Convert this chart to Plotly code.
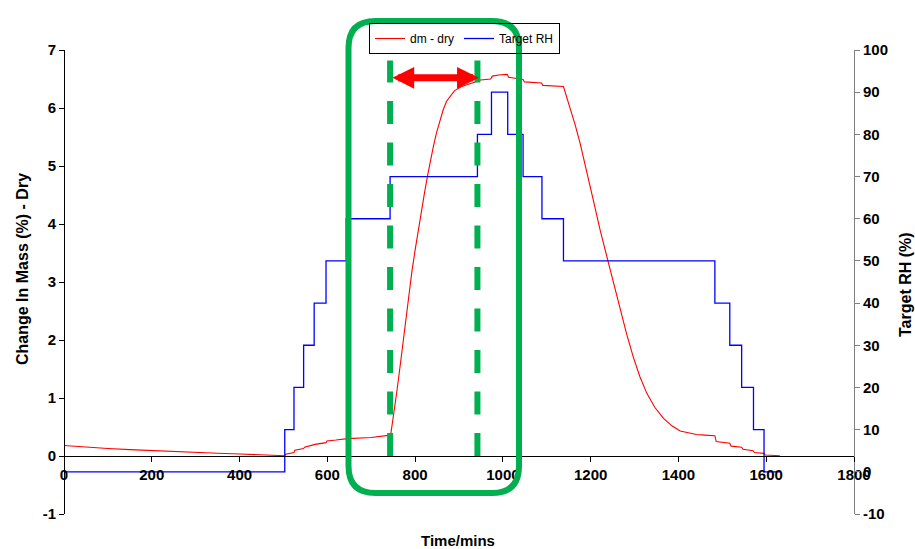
import plotly.graph_objects as go

# Mass change (dm - dry, %) against time (mins)
dm_time = [0, 25, 50, 100, 150, 200, 250, 300, 350, 400, 450, 500, 503,
           505, 524, 526, 546, 548, 570, 572, 597, 599, 620, 643, 646, 700, 743,
           745, 752, 758, 765, 772, 779, 786, 793, 800, 807, 814, 821, 828, 835,
           842, 849, 856, 864, 872, 881, 890, 906, 925, 942,
           944, 972, 976, 990, 1010, 1013, 1046, 1049, 1088, 1091, 1138,
           1145, 1153, 1165, 1176, 1190, 1206, 1222, 1239, 1253, 1267, 1282,
           1297, 1312, 1328, 1346, 1366, 1385, 1404, 1425, 1441, 1460, 1483,
           1486, 1517, 1520, 1544, 1547, 1570, 1573, 1595, 1598, 1631]
dm_value = [0.18, 0.165, 0.152, 0.13, 0.11, 0.092, 0.076, 0.062, 0.048, 0.035, 0.02, 0.008, 0.005,
            0.03, 0.06, 0.1, 0.13, 0.15, 0.19, 0.2, 0.23, 0.26, 0.275, 0.29, 0.3, 0.32, 0.36,
            0.40, 0.75, 1.09, 1.5, 1.95, 2.38, 2.8, 3.2, 3.55, 3.9, 4.2, 4.52, 4.82, 5.1,
            5.35, 5.58, 5.78, 5.97, 6.12, 6.22, 6.3, 6.37, 6.42, 6.46,
            6.48, 6.5, 6.55, 6.57, 6.58, 6.53, 6.49, 6.45, 6.43, 6.39, 6.37,
            6.2, 5.97, 5.7, 5.39, 4.95, 4.41, 3.88, 3.37, 2.93, 2.52, 2.1,
            1.71, 1.37, 1.08, 0.84, 0.65, 0.52, 0.43, 0.39, 0.37, 0.36, 0.35,
            0.25, 0.22, 0.17, 0.15, 0.115, 0.09, 0.06, 0.045, 0.017, 0.005]

# Target RH programme (%), value held from each time until the next
rh_time = [0, 503, 524, 546, 570, 597, 643, 743, 942, 974, 1011, 1046, 1089,
           1138, 1483, 1517, 1544, 1571, 1595, 1631]
rh_value = [0, 10, 20, 30, 40, 50, 60, 70, 80, 90, 80, 70, 60,
            50, 40, 30, 20, 10, 0, 0]

# Axis ticks (labels use a plain hyphen for negatives)
x_ticks = [0, 200, 400, 600, 800, 1000, 1200, 1400, 1600, 1800]
y_ticks = [-1, 0, 1, 2, 3, 4, 5, 6, 7]
y_labels = ["-1", "0", "1", "2", "3", "4", "5", "6", "7"]
rh_ticks = [-10, 0, 10, 20, 30, 40, 50, 60, 70, 80, 90, 100]
rh_labels = ["-10", "0", "10", "20", "30", "40", "50", "60", "70", "80", "90", "100"]

# Time window highlighted between the 70 % and 80 % RH steps
window_start = rh_time[7]
window_end = rh_time[8]

W, H = 915, 549
ML, MR, MT, MB = 64, 61, 50, 35
PW, PH = W - ML - MR, H - MT - MB


def px_x(p):
    return (p - ML) / PW


def px_y(p):
    return (H - MB - p) / PH


FONT = "Liberation Sans, Arial, sans-serif"
GREEN = "#00B050"

fig = go.Figure()
fig.add_trace(go.Scatter(x=dm_time, y=dm_value, name="dm - dry", mode="lines",
                         line=dict(color="#FF0000", width=1.1), yaxis="y"))
fig.add_trace(go.Scatter(x=rh_time, y=rh_value, name="Target RH", mode="lines",
                         line=dict(color="#0000FF", width=1.3, shape="hv"), yaxis="y2"))

# Rounded highlight box
L, R, T, B = px_x(348.5), px_x(519), px_y(21), px_y(493)
rx, ry = 27 / PW, 27 / PH
path = (f"M{L + rx},{T} H{R - rx} Q{R},{T} {R},{T - ry} V{B + ry} "
        f"Q{R},{B} {R - rx},{B} H{L + rx} Q{L},{B} {L},{B + ry} V{T - ry} "
        f"Q{L},{T} {L + rx},{T} Z")
shapes = [dict(type="path", path=path, xref="paper", yref="paper",
               line=dict(color=GREEN, width=6), fillcolor="rgba(0,0,0,0)", layer="above")]
for xv in (window_start, window_end):
    shapes.append(dict(type="line", xref="x", yref="y", x0=xv, x1=xv, y0=0, y1=6.82,
                       line=dict(color=GREEN, width=6, dash="23px,18.5px"), layer="above"))

title_font = dict(family=FONT, size=15, color="black", weight="bold")
annotations = [
    # double-headed arrow spanning the window
    dict(x=window_end + 3, y=6.52, ax=window_start + 2, ay=6.52, xref="x", yref="y",
         axref="x", ayref="y", text="", showarrow=True, arrowside="end+start",
         arrowhead=2, startarrowhead=2, arrowsize=0.62, startarrowsize=0.62,
         arrowwidth=7, arrowcolor="#FF0000", standoff=0, startstandoff=0),
    dict(text="Time/mins", x=px_x(458), y=px_y(540), xref="paper", yref="paper",
         xanchor="center", yanchor="middle", showarrow=False, font=title_font),
    dict(text="Change In Mass (%) - Dry", x=px_x(22), y=px_y(269), xref="paper", yref="paper",
         xanchor="center", yanchor="middle", showarrow=False, textangle=-90,
         font=dict(family=FONT, size=16, color="black", weight="bold")),
    dict(text="Target RH (%)", x=px_x(905), y=px_y(284), xref="paper", yref="paper",
         xanchor="center", yanchor="middle", showarrow=False, textangle=-90,
         font=dict(family=FONT, size=16, color="black", weight="bold")),
]

tickfont = dict(family=FONT, size=15, color="black", weight="bold")

fig.update_layout(
    width=W, height=H,
    margin=dict(l=ML, r=MR, t=MT, b=MB, pad=0),
    paper_bgcolor="white", plot_bgcolor="white",
    showlegend=True,
    legend=dict(orientation="h", x=px_x(369), y=px_y(23), xanchor="left", yanchor="top",
                bgcolor="rgba(255,255,255,0)", bordercolor="black", borderwidth=1,
                font=dict(family=FONT, size=12, color="black"),
                itemwidth=30, tracegroupgap=0),
    xaxis=dict(range=[0, 1800], tickvals=x_ticks, anchor="free", position=0.125,
               showline=True, linecolor="black", linewidth=1, ticks="outside",
               ticklen=5, tickcolor="black", tickfont=tickfont,
               showgrid=False, zeroline=False),
    yaxis=dict(range=[-1, 7], tickvals=y_ticks, ticktext=y_labels, anchor="free", position=0,
               showline=True, linecolor="black", linewidth=1, ticks="outside",
               ticklen=5, tickcolor="black", tickfont=tickfont,
               showgrid=False, zeroline=False),
    yaxis2=dict(range=[-10, 100], tickvals=rh_ticks, ticktext=rh_labels,
                overlaying="y", side="right", anchor="free", position=1,
                showline=True, linecolor="#808080", linewidth=1, ticks="outside",
                ticklen=5, tickcolor="#808080", tickfont=tickfont,
                showgrid=False, zeroline=False),
    shapes=shapes,
    annotations=annotations,
)

fig.write_html("out.html")
